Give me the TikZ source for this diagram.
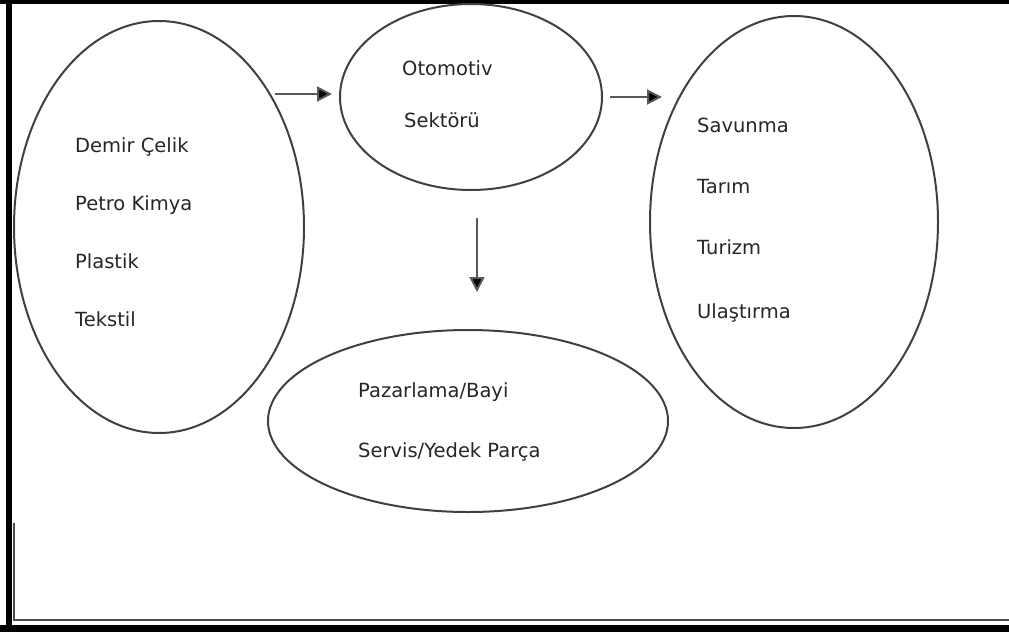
\documentclass[tikz,border=0pt]{standalone}
\usepackage{fontspec}
\setmainfont{DejaVu Sans}
\usetikzlibrary{shapes.geometric,arrows.meta}
\begin{document}
\begin{tikzpicture}[x=1pt,y=-1pt,
  ell/.style={draw=black!75,line width=2pt,ellipse,inner sep=0pt},
  lbl/.style={anchor=base west,inner sep=0pt,font=\fontsize{19.5}{20}\selectfont,text=black!85},
  arr/.style={draw=black!65,line width=2pt,-{Triangle[length=15pt,width=15pt,fill=black]}}]
\useasboundingbox (0,0) rectangle (1009,632);
% frame
\fill[black] (0,0) rectangle (1009,4);
\fill[black] (6,0) rectangle (12,632);
\fill[black] (0,625) rectangle (1009,632);
\draw[black!70,line width=1.8pt] (14,523) -- (14,620) -- (1009,620);
% ellipses
\node[ell,minimum width=290pt,minimum height=412pt] (sup) at (159,227) {};
\node[ell,minimum width=262pt,minimum height=186pt] (oto) at (471,97) {};
\node[ell,minimum width=288pt,minimum height=412pt] (use) at (794,222) {};
\node[ell,minimum width=400pt,minimum height=182pt] (mkt) at (468,421) {};
% texts
\node[lbl] (t1) at (75,152) {Demir Çelik};
\node[lbl] (t2) at (75,210) {Petro Kimya};
\node[lbl] (t3) at (75,268) {Plastik};
\node[lbl] (t4) at (75,326) {Tekstil};
\node[lbl] (m1) at (402,75) {Otomotiv};
\node[lbl] (m2) at (404,127) {Sektörü};
\node[lbl] (r1) at (697,132) {Savunma};
\node[lbl] (r2) at (697,193) {Tarım};
\node[lbl] (r3) at (697,254) {Turizm};
\node[lbl] (r4) at (697,318) {Ulaştırma};
\node[lbl] (b1) at (358,397) {Pazarlama/Bayi};
\node[lbl] (b2) at (358,457) {Servis/Yedek Parça};
% arrows
\coordinate (a1s) at (275,94);
\coordinate (a1e) at (332,94);
\coordinate (a2s) at (610,97);
\coordinate (a2e) at (662,97);
\coordinate (a3s) at (477,218);
\coordinate (a3e) at (477,292);
\draw[arr] (a1s) -- (a1e);
\draw[arr] (a2s) -- (a2e);
\draw[arr] (a3s) -- (a3e);
\end{tikzpicture}
\end{document}
